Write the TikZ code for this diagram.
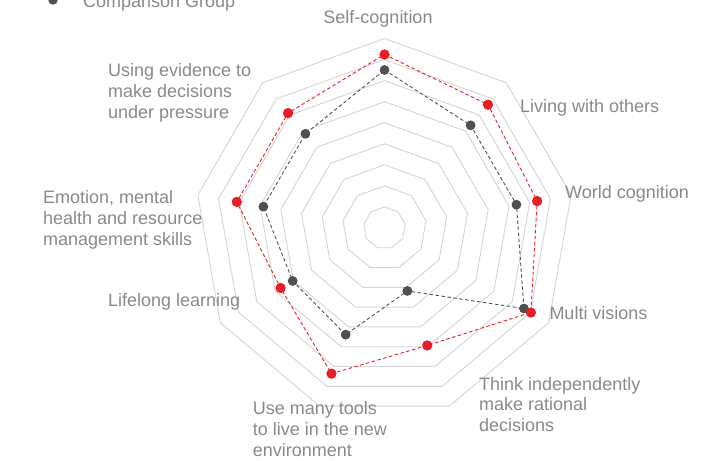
\documentclass[tikz,border=0pt]{standalone}
\usepackage{fontspec}
\setmainfont{Liberation Sans}
\definecolor{txtgray}{RGB}{137,137,137}
\definecolor{gridgray}{RGB}{212,212,212}
\definecolor{ptred}{RGB}{232,30,38}
\definecolor{ptgray}{RGB}{80,80,80}
\begin{document}
\begin{tikzpicture}[x=1pt,y=1pt,
  lbl/.style={inner sep=0pt, text=txtgray, font=\fontsize{18}{21}\selectfont, align=left},
  ring/.style={draw=gridgray, line width=0.9pt, line join=miter},
  redline/.style={draw=ptred, dash pattern=on 3.5pt off 2.5pt, line width=0.9pt},
  grayline/.style={draw=ptgray, dash pattern=on 3.5pt off 2.5pt, line width=0.9pt},
  reddot/.style={circle, fill=ptred, inner sep=0pt, minimum size=10pt},
  graydot/.style={circle, fill=ptgray, inner sep=0pt, minimum size=9.5pt}]
\useasboundingbox (0,0) rectangle (721,461);
\clip (0,0) rectangle (721,461);
% legend
\node[graydot] (legdot) at (53,461) {};
\node[lbl, anchor=base west] (legtxt) at (83,453.7) {Comparison Group};
\begin{scope}[shift={(384.5,233)}]
  \coordinate (c) at (0,0);
  % rings
  \foreach \k in {1,...,9}{
    \draw[ring] (90:\k*21.06) \foreach \i in {1,...,8}{ -- (90+40*\i:\k*21.06)} -- cycle;
  }
  % comparison (gray)
  \node[graydot] (g1) at (90:158) {};
  \node[graydot] (g2) at (50:134) {};
  \node[graydot] (g3) at (10:134) {};
  \node[graydot] (g4) at (-30:161) {};
  \node[graydot] (g5) at (-70:67) {};
  \node[graydot] (g6) at (-110:113.5) {};
  \node[graydot] (g7) at (-150:106) {};
  \node[graydot] (g8) at (170:123) {};
  \node[graydot] (g9) at (130:123) {};
  \draw[grayline] (g1.center) -- (g2.center) -- (g3.center) -- (g4.center) -- (g5.center) -- (g6.center) -- (g7.center) -- (g8.center) -- (g9.center) -- (g1.center);
  % red series
  \node[reddot] (r1) at (90:173.5) {};
  \node[reddot] (r2) at (50:161) {};
  \node[reddot] (r3) at (10:155) {};
  \node[reddot] (r4) at (-30:169) {};
  \node[reddot] (r5) at (-70:125) {};
  \node[reddot] (r6) at (-110:155) {};
  \node[reddot] (r7) at (-150:120) {};
  \node[reddot] (r8) at (170:150) {};
  \node[reddot] (r9) at (130:150) {};
  \draw[redline] (r1.center) -- (r2.center) -- (r3.center) -- (r4.center) -- (r5.center) -- (r6.center) -- (r7.center) -- (r8.center) -- (r9.center) -- (r1.center);
  \foreach \n in {1,...,9}{\node[graydot] at (g\n) {}; \node[reddot] at (r\n) {};}
\end{scope}
% labels
\node[lbl, anchor=base] (l1) at (378,437) {Self-cognition};
\node[lbl, anchor=base west] (l2) at (520,348.3) {Living with others};
\node[lbl, anchor=base west] (l3) at (565,262.7) {World cognition};
\node[lbl, anchor=base west] (l4) at (549.3,141) {Multi visions};
\node[lbl, anchor=base west] (l5) at (479,29) {Think independently\\make rational\\decisions};
\node[lbl, anchor=base west] (l6) at (252.7,4.8) {Use many tools\\to live in the new\\environment};
\node[lbl, anchor=base west] (l7) at (108,154) {Lifelong learning};
\node[lbl, anchor=base west] (l8) at (43,215) {Emotion, mental\\health and resource\\management skills};
\node[lbl, anchor=base west] (l9) at (108,342) {Using evidence to\\make decisions\\under pressure};
\end{tikzpicture}
\end{document}
